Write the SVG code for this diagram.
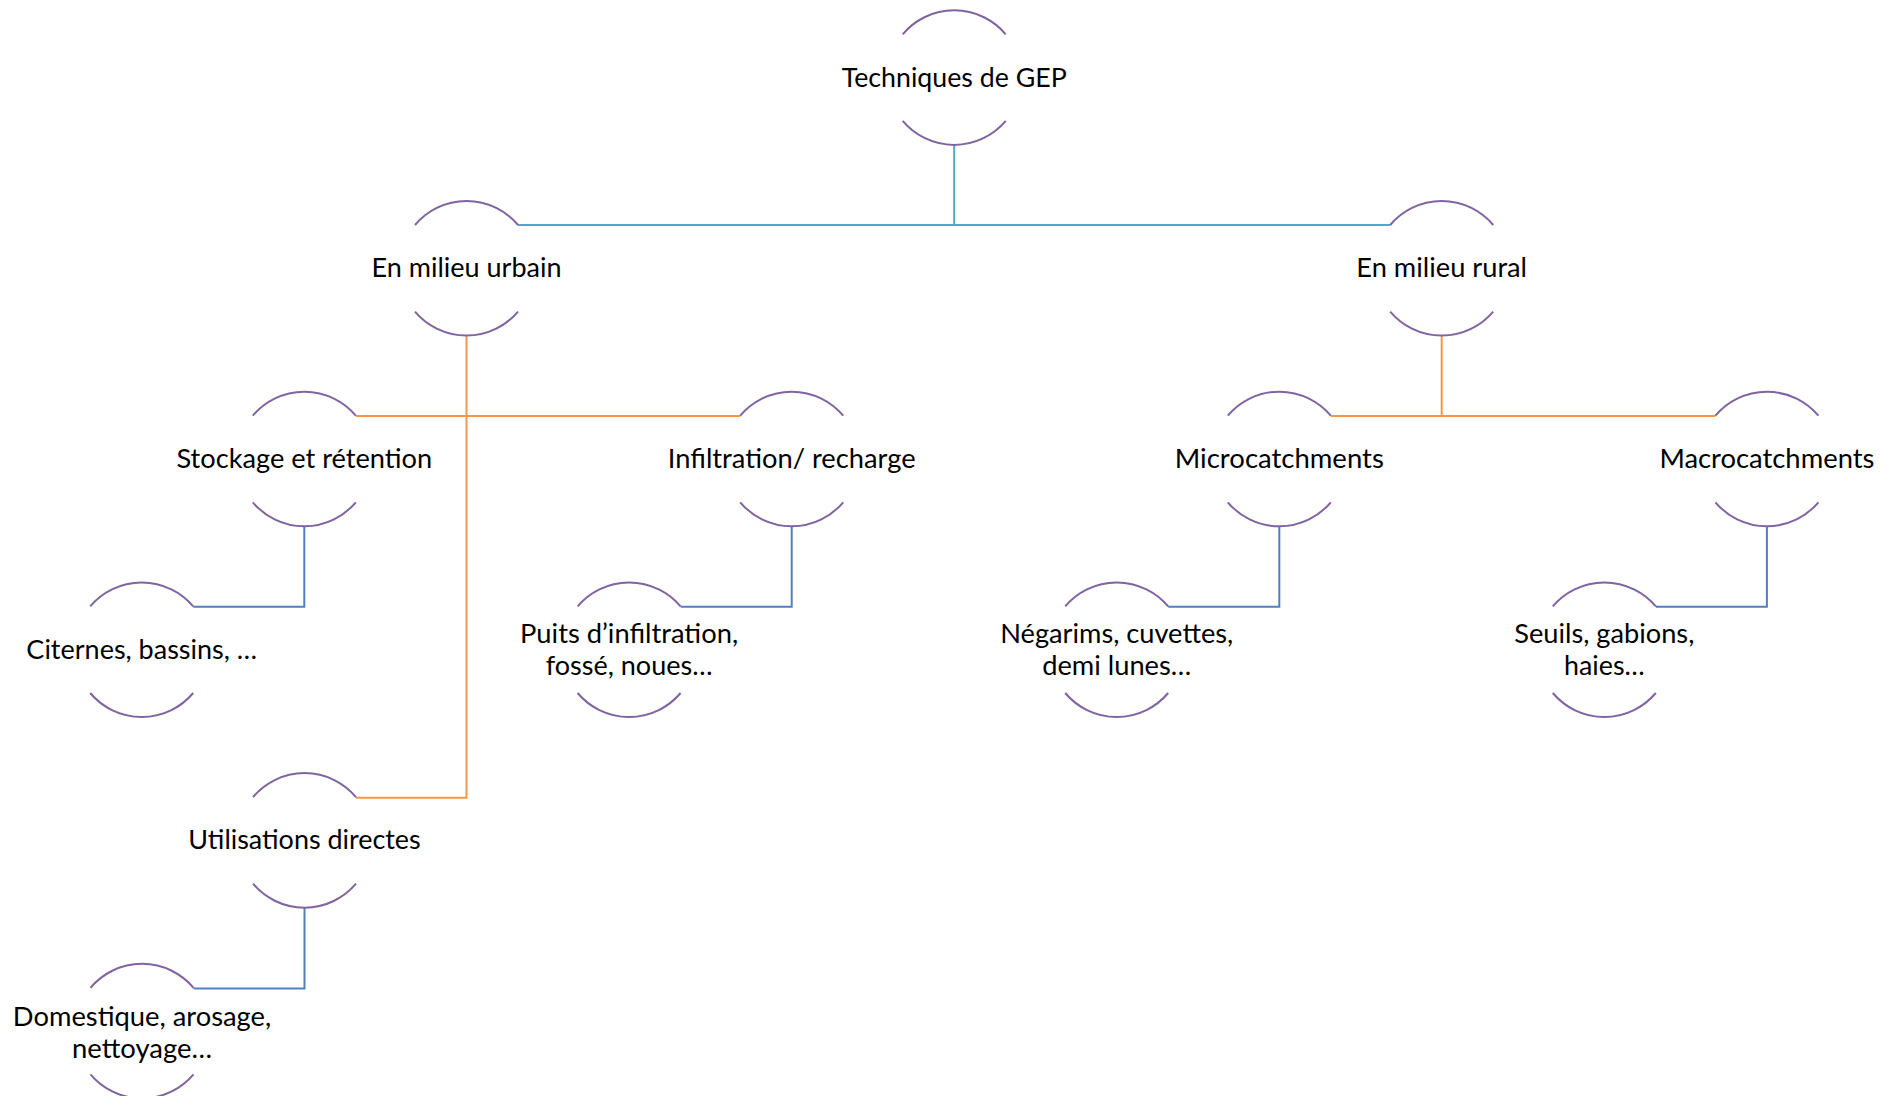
<svg xmlns="http://www.w3.org/2000/svg" width="1883" height="1096" viewBox="0 0 1883 1096">
<style>
.arc{fill:none;stroke:#8064A2;stroke-width:2}
.c0{fill:none;stroke:#4BACC6;stroke-width:2}
.c1{fill:none;stroke:#F79646;stroke-width:2}
.c2{fill:none;stroke:#4F81BD;stroke-width:2}
text{font-family:Lato,"Open Sans","Liberation Sans",sans-serif;font-size:26.5px;fill:#000;text-anchor:middle}
</style>
<rect width="1883" height="1096" fill="#fff"/>
<g id="connectors">
<path class="c0" d="M954.2,144.9V225M517.9,225H1390.2"/>
<path class="c1" d="M466.5,335.6V797.7H355.9M355.8,416H740.2"/>
<path class="c1" d="M1441.7,335.6V416M1330.8,416H1715.4"/>
<path class="c2" d="M304.3,526.3V606.7H193.2"/>
<path class="c2" d="M791.7,526.3V606.7H680.6"/>
<path class="c2" d="M1279.3,526.3V606.7H1168.2"/>
<path class="c2" d="M1766.9,526.3V606.7H1655.8"/>
<path class="c2" d="M304.5,907.7V988.4H193.5"/>
</g>
<g id="n-root" transform="translate(954.2,77.6)">
<path class="arc" d="M-51.5,-43.3A67.3,67.3 0 0 1 51.5,-43.3M-51.5,43.3A67.3,67.3 0 0 0 51.5,43.3"/>
<text x="0" y="9" textLength="225" lengthAdjust="spacingAndGlyphs">Techniques de GEP</text>
</g>
<g id="n-urbain" transform="translate(466.5,268.3)">
<path class="arc" d="M-51.5,-43.3A67.3,67.3 0 0 1 51.5,-43.3M-51.5,43.3A67.3,67.3 0 0 0 51.5,43.3"/>
<text x="0" y="9" textLength="190" lengthAdjust="spacingAndGlyphs">En milieu urbain</text>
</g>
<g id="n-rural" transform="translate(1441.7,268.3)">
<path class="arc" d="M-51.5,-43.3A67.3,67.3 0 0 1 51.5,-43.3M-51.5,43.3A67.3,67.3 0 0 0 51.5,43.3"/>
<text x="0" y="9" textLength="170.7" lengthAdjust="spacingAndGlyphs">En milieu rural</text>
</g>
<g id="n-stockage" transform="translate(304.3,459)">
<path class="arc" d="M-51.5,-43.3A67.3,67.3 0 0 1 51.5,-43.3M-51.5,43.3A67.3,67.3 0 0 0 51.5,43.3"/>
<text x="0" y="9" textLength="255.7" lengthAdjust="spacingAndGlyphs">Stockage et rétention</text>
</g>
<g id="n-infiltration" transform="translate(791.7,459)">
<path class="arc" d="M-51.5,-43.3A67.3,67.3 0 0 1 51.5,-43.3M-51.5,43.3A67.3,67.3 0 0 0 51.5,43.3"/>
<text x="0" y="9" textLength="247.7" lengthAdjust="spacingAndGlyphs">Infiltration/ recharge</text>
</g>
<g id="n-micro" transform="translate(1279.3,459)">
<path class="arc" d="M-51.5,-43.3A67.3,67.3 0 0 1 51.5,-43.3M-51.5,43.3A67.3,67.3 0 0 0 51.5,43.3"/>
<text x="0" y="9" textLength="209" lengthAdjust="spacingAndGlyphs">Microcatchments</text>
</g>
<g id="n-macro" transform="translate(1766.9,459)">
<path class="arc" d="M-51.5,-43.3A67.3,67.3 0 0 1 51.5,-43.3M-51.5,43.3A67.3,67.3 0 0 0 51.5,43.3"/>
<text x="0" y="9" textLength="215" lengthAdjust="spacingAndGlyphs">Macrocatchments</text>
</g>
<g id="n-citernes" transform="translate(141.7,649.7)">
<path class="arc" d="M-51.5,-43.3A67.3,67.3 0 0 1 51.5,-43.3M-51.5,43.3A67.3,67.3 0 0 0 51.5,43.3"/>
<text x="0" y="9" textLength="230.7" lengthAdjust="spacingAndGlyphs">Citernes, bassins, …</text>
</g>
<g id="n-puits" transform="translate(629.1,649.7)">
<path class="arc" d="M-51.5,-43.3A67.3,67.3 0 0 1 51.5,-43.3M-51.5,43.3A67.3,67.3 0 0 0 51.5,43.3"/>
<text x="0" y="-6.5" textLength="218" lengthAdjust="spacingAndGlyphs">Puits d’infiltration,</text>
<text x="0" y="25.5" textLength="166.7" lengthAdjust="spacingAndGlyphs">fossé, noues…</text>
</g>
<g id="n-negarims" transform="translate(1116.7,649.7)">
<path class="arc" d="M-51.5,-43.3A67.3,67.3 0 0 1 51.5,-43.3M-51.5,43.3A67.3,67.3 0 0 0 51.5,43.3"/>
<text x="0" y="-6.5" textLength="233" lengthAdjust="spacingAndGlyphs">Négarims, cuvettes,</text>
<text x="0" y="25.5" textLength="149" lengthAdjust="spacingAndGlyphs">demi lunes…</text>
</g>
<g id="n-seuils" transform="translate(1604.3,649.7)">
<path class="arc" d="M-51.5,-43.3A67.3,67.3 0 0 1 51.5,-43.3M-51.5,43.3A67.3,67.3 0 0 0 51.5,43.3"/>
<text x="0" y="-6.5" textLength="180" lengthAdjust="spacingAndGlyphs">Seuils, gabions,</text>
<text x="0" y="25.5" textLength="80.7" lengthAdjust="spacingAndGlyphs">haies…</text>
</g>
<g id="n-utilisations" transform="translate(304.5,840.4)">
<path class="arc" d="M-51.5,-43.3A67.3,67.3 0 0 1 51.5,-43.3M-51.5,43.3A67.3,67.3 0 0 0 51.5,43.3"/>
<text x="0" y="9" textLength="232.4" lengthAdjust="spacingAndGlyphs">Utilisations directes</text>
</g>
<g id="n-domestique" transform="translate(142,1031.1)">
<path class="arc" d="M-51.5,-43.3A67.3,67.3 0 0 1 51.5,-43.3M-51.5,43.3A67.3,67.3 0 0 0 51.5,43.3"/>
<text x="0" y="-5.5" textLength="258.4" lengthAdjust="spacingAndGlyphs">Domestique, arosage,</text>
<text x="0" y="26.5" textLength="140" lengthAdjust="spacingAndGlyphs">nettoyage…</text>
</g>
</svg>
